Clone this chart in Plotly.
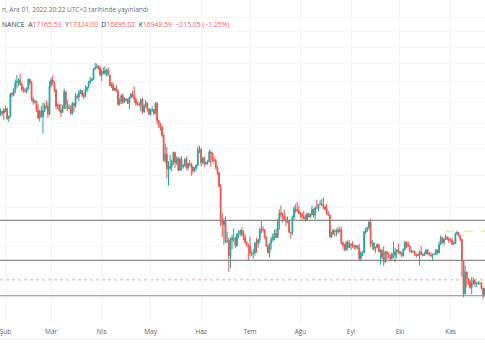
import pandas as pd
import plotly.graph_objects as go

# Daily BTC/USDT candles (high, low, close); open of each day = previous close
first_open = 36950
jan = [(38920,36250,36810),(37240,35510,37160),(38000,36160,37716),(38720,37300,38166),(38360,37350,37881),(38740,36630,38466)]
feb = [(39265,38000,38690),(38850,36590,36896),(37390,36250,37311),(41720,37050,41575),(41910,40850,41382),
       (42650,41100,42380),(44500,41650,43840),(45490,42670,44040),(44800,43120,44373),(45820,43200,43500),
       (43920,42000,42390),(43000,41750,42205),(42760,41870,42050),(42880,41570,42535),(44770,42430,44545),
       (44580,43310,43870),(44160,40080,40515),(40950,39450,39975),(40480,39640,40080),(40150,38000,38370),
       (39500,36800,37010),(38430,36350,38230),(39250,37040,37250),(39840,34320,38330),(39730,38010,39220),
       (40300,38550,39115),(39870,37000,37700),(44220,37450,43160)]
mar = [(44950,42830,44420),(45400,43330,43890),(44100,41830,42450),(42530,38550,39150),(39690,38600,39400),
       (39650,38090,38420),(39550,37150,37990),(39400,37860,38730),(42600,38660,41940),(42060,38540,39420),
       (40240,38220,38730),(39490,38660,38810),(39310,37580,37780),(39900,37580,39670),(39870,38100,39280),
       (41720,38830,41115),(41480,40500,40920),(42330,40130,41760),(42400,41500,42200),(42300,40910,41260),
       (41740,40470,41000),(43360,40880,42360),(43000,41800,42880),(44230,42590,43990),(45100,43600,44310),
       (44810,44080,44500),(46950,44420,46820),(48190,46660,47130),(48100,46950,47430),(47700,46560,47060),
       (47600,45200,45510)]
apr = [(46720,44200,46280),(47210,45620,45810),(47440,45530,46410),(46890,45120,46580),(47200,45350,45500),
       (45500,43120,43170),(43900,42730,43440),(43970,42110,42250),(42800,42130,42750),(43410,41870,42160),
       (42410,39200,39530),(40700,39250,40070),(41560,39550,41150),(41500,39550,39940),(40850,39770,40550),
       (40710,40010,40380),(40620,39560,39680),(40980,38540,40800),(41760,40570,41500),(42200,40820,41360),
       (42980,39750,40480),(40800,39180,39710),(39990,39300,39450),(39930,39000,39450),(40620,38200,40430),
       (40800,37700,38120),(39470,37880,39240),(40370,38880,39740),(39920,38180,38600),(38800,37580,37630)]
may = [(38680,37390,38470),(39170,38050,38530),(38650,37500,37750),(39900,37670,39700),(39850,35860,36550),
       (36680,35250,36010),(36130,34780,35470),(35500,33710,34040),(34240,30030,30100),(32660,29730,31010),
       (32190,27700,28940),(30030,26700,29050),(30990,28750,29280),(30300,28630,30080),(31460,29500,31330),
       (31330,29080,29850),(30760,29470,30430),(30700,28680,28720),(30550,28700,30320),(30780,28730,29200),
       (29620,28950,29430),(30480,29230,30280),(30680,28850,29100),(29860,28670,29650),(30230,29300,29540),
       (29850,28000,29200),(29400,28260,28630),(29200,28500,29030),(29560,28800,29470),(32230,29300,31720),
       (32400,31200,31800)]
jun = [(31980,29300,29800),(30690,29580,30450),(30700,29250,29700),(29950,29470,29860),(30170,29520,29910),
       (31760,29880,31370),(31560,29220,31130),(31330,29840,30200),(30700,29950,30110),(30380,28850,29090),
       (29440,28100,28420),(28550,26560,26570),(26900,21930,22490),(23360,20850,22140),(22800,20080,22580),
       (22980,20230,20380),(21360,20250,20470),(20780,17620,19020),(20820,17960,20550),(21100,19650,20720),
       (21720,20350,20720),(20880,19770,19990),(21230,19900,21110),(21480,20750,21230),(21600,20900,21500),
       (21860,20960,21040),(21520,20520,20740),(21200,20180,20280),(20430,19850,20100),(20140,18630,19940)]
jul = [(20880,18980,19290),(19430,19000,19250),(19650,18780,19300),(20360,19050,20240),(20750,19300,20180),
       (20660,19770,20550),(21840,20250,21610),(22530,21200,21590),(21950,21320,21590),(21600,20650,20850),
       (20860,19880,19960),(20050,19240,19330),(20260,18900,20230),(20880,19620,20590),(21200,20380,20830),
       (21580,20480,21190),(21690,20760,20780),(22780,20760,22430),(23800,21580,23400),(24280,22900,23220),
       (23440,22340,23150),(23750,22500,22680),(22990,21960,22450),(22990,22260,22580),(22670,21250,21310),
       (21350,20700,21250),(23110,21040,22950),(24200,22580,23850),(24450,23420,23780),(24670,23500,23650),
       (24200,23230,23300)]
aug = [(23510,22850,23270),(23460,22650,22980),(23650,22680,22820),(23220,22430,22620),(23450,22590,23310),
       (23350,22930,22950),(23390,22850,23170),(24250,23150,23810),(23920,22880,23150),(24220,22670,23950),
       (24920,23900,23930),(24450,23600,24400),(24890,24290,24440),(25050,24180,24300),(25210,23780,24100),
       (24230,23700,23850),(24450,23180,23340),(23600,23080,23190),(23200,20780,20830),(21380,20760,21140),
       (21690,21060,21520),(21520,20890,21400),(21680,20900,21530),(21900,21150,21370),(21820,21310,21570),
       (21890,20110,20240),(20380,19820,20040),(20160,19520,19550),(20430,19530,20280),(20580,19550,19810),
       (20490,19800,20050)]
sep = [(20200,19560,20130),(20440,19750,19950),(20050,19650,19830),(20000,19600,19990),(20060,19640,19800),
       (20180,18640,18790),(19460,18540,19290),(19450,19020,19320),(21450,19300,21360),(21800,21110,21650),
       (21860,21360,21830),(22490,21550,22400),(22800,19860,20170),(20550,19620,20230),(20330,19500,19700),
       (19900,19320,19800),(20190,19760,20110),(20120,19340,19420),(19690,18240,19540),(19630,18740,18880),
       (19950,18130,18480),(19500,18360,19400),(19490,18530,19300),(19320,18820,18930),(19180,18630,18800),
       (19320,18680,19220),(20380,18820,19080),(19790,18470,19410),(19650,18840,19590),(20180,19170,19420)]
oct_ = [(19480,19160,19310),(19400,18920,19050),(19720,18960,19630),(20470,19500,20340),(20360,19730,20160),
        (20450,19860,19960),(20050,19320,19530),(19610,19250,19420),(19520,19320,19440),(19530,19030,19130),
        (19260,18860,19060),(19220,18970,19160),(19520,18190,19380),(19950,19070,19180),(19230,18980,19070),
        (19420,19060,19260),(19680,19160,19550),(19700,19100,19330),(19350,19070,19120),(19350,18900,19040),
        (19250,18650,19160),(19240,19110,19200),(19700,19070,19570),(19600,19160,19330),(20400,19240,20080),
        (21020,20050,20770),(20880,20200,20290),(20750,20000,20600),(21090,20550,20820),(20930,20520,20630),
        (20840,20230,20490)]
nov = [(20700,20360,20480),(20800,20050,20150),(20400,20030,20210),(21300,20180,21150),(21480,21080,21300),
       (21370,20880,20910),(21070,20390,20600),(20670,17170,18540),(18600,15590,15880),(18150,15750,17590),
       (17660,16360,17070),(17080,16530,16810),(16950,16230,16330),(17190,15820,16620),(17130,16530,16900),
       (17000,16370,16660),(16740,16400,16690),(16880,16560,16700),(16800,16580,16650),(16760,16180,16290),
       (16300,15480,15780),(16280,15630,16220),(16680,16170,16600)]

month_ticks = ["2022-02-01","2022-03-01","2022-04-01","2022-05-01","2022-06-01","2022-07-01",
               "2022-08-01","2022-09-01","2022-10-01","2022-11-01"]
month_labels = ["Şub","Mar","Nis","May","Haz","Tem","Ağu","Eyl","Eki","Kas"]

# Drawn horizontal levels and price markers
level_lines = [22570, 18620, 15700]
last_price = 16948.59
high_marker = 21440
high_marker_start = "2022-10-29"

header1 = "n, Ara 01, 2022 20:22 UTC+2 tarihinde yayınlandı"
ohlc_labels = ["A", "Y", "D", "K"]
ohlc_values = ["17165.53", "17324.00", "16895.02", "16948.59"]
change_text = "−215.05 (−1.25%)"

rows = jan + feb + mar + apr + may + jun + jul + aug + sep + oct_ + nov
dates = pd.date_range("2022-01-26", periods=len(rows), freq="D")
high = [r[0] for r in rows]
low = [r[1] for r in rows]
close = [r[2] for r in rows]
open_ = [first_open] + close[:-1]

UP = "#26a69a"
DOWN = "#ef5350"

fig = go.Figure()
fig.add_trace(go.Candlestick(
    x=dates, open=open_, high=high, low=low, close=close,
    increasing=dict(line=dict(color=UP, width=1), fillcolor=UP),
    decreasing=dict(line=dict(color=DOWN, width=1), fillcolor=DOWN),
    whiskerwidth=0, showlegend=False, hoverinfo="skip",
))

shapes = []
for lv in level_lines:
    shapes.append(dict(type="line", xref="paper", x0=0, x1=1, yref="y", y0=lv, y1=lv,
                       line=dict(color="#8a8a8a", width=1.2), layer="above"))
shapes.append(dict(type="line", xref="paper", x0=0, x1=1, yref="y", y0=last_price, y1=last_price,
                   line=dict(color="#f5a0a8", width=1, dash="dot"), layer="below"))
shapes.append(dict(type="line", xref="x", x0=high_marker_start, x1="2022-11-30", yref="y",
                   y0=high_marker, y1=high_marker,
                   line=dict(color="#ece58a", width=1.2, dash="dash"), layer="below"))
shapes.append(dict(type="line", xref="paper", x0=0, x1=1, yref="paper", y0=-0.053, y1=-0.053,
                   line=dict(color="#eceef3", width=1)))

red = "#f0616e"
dark = "#3a3d48"
line2 = f"<span style='color:{dark}'>NANCE</span>  " + "  ".join(
    f"<span style='color:{dark}'>{l}</span><span style='color:{red}'>{v}</span>"
    for l, v in zip(ohlc_labels, ohlc_values)) + f"  <span style='color:{red}'>{change_text}</span>"

fig.update_layout(
    width=485, height=360,
    margin=dict(l=0, r=0, t=0, b=38),
    paper_bgcolor="white", plot_bgcolor="white",
    font=dict(family="Open Sans", size=6.5, color="#6a6d78"),
    shapes=shapes,
    annotations=[
        dict(text=header1, xref="paper", yref="paper", x=0, y=1 - 9/322, xanchor="left",
             yanchor="middle", showarrow=False, font=dict(size=6.5, color="#6a6d78")),
        dict(text=line2, xref="paper", yref="paper", x=0, y=1 - 24/322, xanchor="left",
             yanchor="middle", showarrow=False, font=dict(size=6.8)),
    ],
    xaxis=dict(
        type="date", range=["2022-01-28 15:00", "2022-11-22 04:00"],
        rangeslider=dict(visible=False),
        tickvals=month_ticks, ticktext=month_labels, ticks="",
        showgrid=True, gridcolor="#f2f3f8", gridwidth=1,
        showline=False, zeroline=False, ticklabeloverflow="allow",
        tickfont=dict(size=6.5, color="#5d606b"), ticklabelstandoff=4,
    ),
    yaxis=dict(
        type="log", range=[4.1410, 4.8149],
        tickvals=[16000, 20000, 24000, 28000, 32000, 36000, 40000, 44000, 48000, 52000, 56000, 60000],
        showticklabels=False, ticks="",
        showgrid=True, gridcolor="#f5f6fa", zeroline=False, showline=False,
    ),
)

fig.write_html("out.html", config={"displayModeBar": False},
               post_script="document.body.style.margin='0';document.body.style.overflow='hidden';")
